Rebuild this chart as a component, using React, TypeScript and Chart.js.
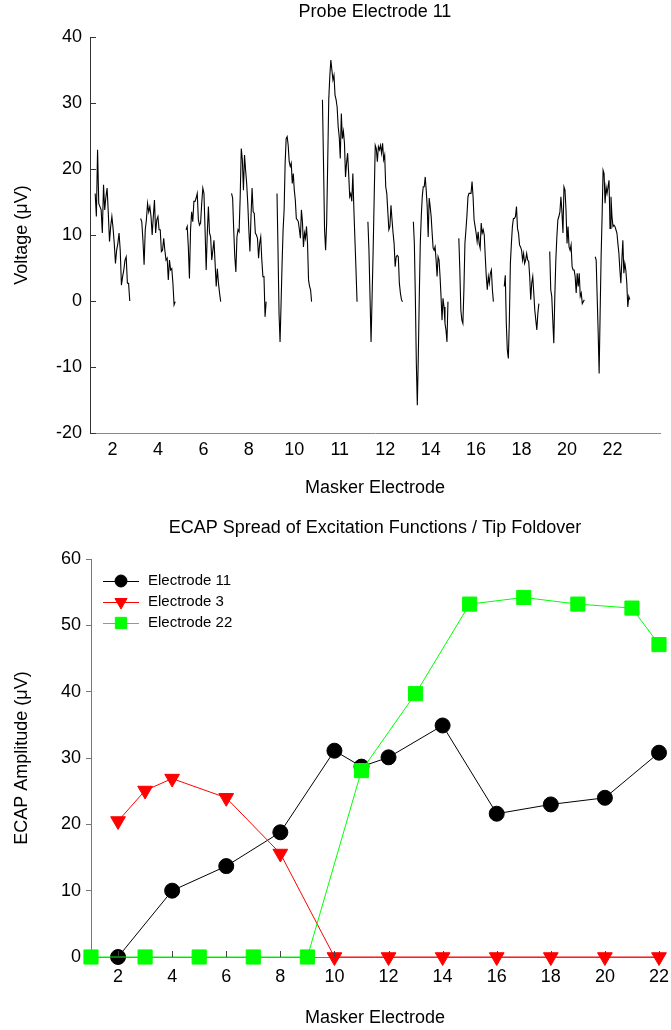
import React, { useEffect, useRef } from 'react';
import { Chart, registerables } from 'chart.js';

Chart.register(...registerables);

const FONT = "'Liberation Sans', Arial, sans-serif";

// ---------- Top chart: probe electrode 11 traces ----------
const maskerLabels = ['2', '4', '6', '8', '10', '11', '12', '14', '16', '18', '20', '22'];

const trace2 = [16.3, 12.8, 22.9, 14.8, 14.3, 13.8, 10.3, 17.6, 13.8, 15.8, 17.1, 13.3, 9.0, 11.3, 12.8, 11.0, 8.7, 5.7, 7.7, 8.7, 10.3, 7.7, 2.4, 3.7, 4.7, 6.2, 6.7, 2.7, 2.7, 0];
const trace4 = [12.5, 12.0, 9.2, 5.5, 10.8, 12.3, 14.8, 13.5, 14.3, 12.8, 10.0, 12.8, 15.3, 10.3, 12.3, 12.8, 10.8, 10.8, 7.5, 7.7, 9.5, 7.7, 6.2, 6.5, 3.2, 6.2, 4.7, 4.9, 2.7, -0.6, -0.1];
const trace6 = [10.8, 11.3, 8.2, 3.4, 10.8, 13.5, 12.0, 15.1, 15.1, 15.6, 16.3, 12.3, 11.5, 11.8, 14.8, 17.1, 16.3, 10.8, 4.7, 10.3, 14.3, 10.3, 9.7, 6.2, 7.7, 9.2, 5.7, 2.2, 4.9, 2.7, 1.2, -0.1];
const trace8 = [16.3, 15.6, 10.8, 6.7, 4.4, 9.7, 10.8, 10.5, 15.8, 23.1, 21.4, 16.8, 22.1, 19.8, 17.8, 14.8, 10.8, 7.5, 12.8, 17.1, 13.5, 13.3, 10.3, 10.0, 9.5, 6.5, 8.7, 9.7, 6.2, 3.7, 3.7, -2.4, -0.1];
const trace10 = [16.3, 7.7, -1.9, -6.2, -0.4, 5.7, 10.8, 13.8, 20.9, 24.6, 24.9, 23.6, 21.1, 20.4, 20.9, 17.8, 19.3, 16.8, 15.3, 12.5, 12.3, 12.0, 10.8, 9.5, 13.8, 12.0, 8.2, 10.3, 9.5, 11.3, 8.7, 3.2, 2.2, 1.7, -0.1];
const trace11 = [30.5, 20.9, 10.8, 7.7, 11.8, 20.9, 30.5, 34.0, 36.5, 35.0, 33.5, 34.2, 31.2, 30.5, 29.4, 26.4, 24.9, 21.6, 28.4, 24.6, 25.7, 23.9, 18.8, 20.9, 22.4, 19.3, 15.8, 16.3, 15.1, 19.3, 13.8, 9.2, 4.7, -0.1];
const trace12 = [12.0, 7.7, 0.7, -6.2, 0.7, 7.7, 15.8, 23.6, 23.1, 21.1, 23.4, 22.9, 23.6, 22.4, 23.9, 21.4, 22.1, 17.3, 16.3, 13.5, 10.8, 11.3, 14.5, 12.3, 10.3, 8.7, 5.2, 6.7, 6.9, 6.7, 2.7, 1.2, 0.2, -0.1];
const trace14 = [12.0, 8.7, 0.7, -9.4, -15.8, -8.4, 0.7, 8.7, 12.8, 15.8, 17.3, 17.3, 18.8, 16.8, 14.3, 9.7, 15.6, 14.3, 12.8, 10.3, 8.0, 7.7, 8.2, 6.2, 3.7, 6.7, 6.2, 3.7, 0.7, -2.9, 0.4, -0.9, -3.4, -4.4, -6.2, -0.1];
const trace16 = [9.5, 4.7, -1.4, -2.9, -3.4, 1.7, 8.7, 10.8, 13.0, 15.8, 16.3, 16.3, 16.3, 18.1, 15.8, 12.3, 11.3, 10.3, 9.0, 10.5, 8.7, 8.0, 11.8, 10.3, 10.8, 10.0, 6.7, 3.7, 1.7, 3.7, 2.7, 4.2, 4.7, 1.7, -0.1];
const trace18 = [2.2, 3.9, -3.4, -7.4, -8.7, -2.9, 5.7, 8.7, 11.3, 12.5, 12.5, 12.8, 14.3, 11.0, 10.3, 8.5, 8.2, 7.7, 6.2, 7.2, 5.7, 6.2, 7.2, 6.2, 6.0, 3.7, 0.2, 2.7, 3.7, 1.2, -1.4, -2.9, -4.4, -1.9, -0.4];
const trace20 = [7.5, 1.7, 0.7, -2.9, -6.4, 0.7, 6.2, 9.7, 12.3, 12.8, 13.5, 15.8, 13.5, 10.3, 17.3, 16.8, 13.8, 8.7, 11.3, 8.2, 7.7, 8.5, 5.2, 4.7, 4.7, 3.7, 1.2, 4.2, 2.2, 4.2, 0.7, 1.2, -0.4, -0.1, 0.2];
const trace22 = [6.7, 6.2, 0.7, -4.6, -11.0, -1.9, 6.7, 12.8, 19.8, 19.3, 14.8, 17.3, 16.3, 17.3, 18.3, 11.0, 15.8, 12.8, 11.3, 11.5, 11.3, 10.8, 10.3, 8.7, 7.2, 4.7, 2.7, 6.2, 9.2, 4.2, 5.7, 4.7, 2.7, -0.9, 0.7, 0.2];

const traces = [trace2, trace4, trace6, trace8, trace10, trace11, trace12, trace14, trace16, trace18, trace20, trace22];

// ---------- Bottom chart: ECAP spread of excitation ----------
const e11X = [2, 4, 6, 8, 10, 11, 12, 14, 16, 18, 20, 22];
const e11Y = [0, 10, 13.7, 18.8, 31.1, 28.7, 30.1, 34.9, 21.6, 23.0, 24.0, 30.8];
const e3X = [2, 3, 4, 6, 8, 10, 12, 14, 16, 18, 20, 22];
const e3Y = [20.5, 25.1, 26.9, 24.0, 15.6, 0, 0, 0, 0, 0, 0, 0];
const e22X = [1, 3, 5, 7, 9, 11, 13, 15, 17, 19, 21, 22];
const e22Y = [0, 0, 0, 0, 0, 28.1, 39.7, 53.2, 54.2, 53.2, 52.6, 47.1];
const ecapXTicks = [2, 4, 6, 8, 10, 12, 14, 16, 18, 20, 22];

// layout of trace segments on the top x axis (in segment units)
const SEG_OFFSET = 0.114;
const SEG_SPAN = 0.761;
const TOP_X_MAX = 12.54;

function drawMarker(ctx: CanvasRenderingContext2D, style: string, x: number, y: number, r: number, color: string) {
  ctx.beginPath();
  if (style === 'circle') {
    ctx.arc(x, y, r, 0, Math.PI * 2);
  } else if (style === 'triangle') {
    ctx.moveTo(x - r * 0.866, y - r * 0.5);
    ctx.lineTo(x + r * 0.866, y - r * 0.5);
    ctx.lineTo(x, y + r);
    ctx.closePath();
  } else {
    const s = r * Math.SQRT1_2;
    ctx.rect(x - s, y - s, 2 * s, 2 * s);
  }
  ctx.fillStyle = color;
  ctx.fill();
  ctx.strokeStyle = color;
  ctx.lineWidth = 1;
  ctx.stroke();
}

const decorPlugin = {
  id: 'decor',
  afterDraw(chart: any, _args: any, opts: any) {
    const { ctx, chartArea, scales } = chart;
    ctx.save();
    // title
    ctx.font = `18px ${FONT}`;
    ctx.fillStyle = '#000';
    ctx.textAlign = 'center';
    ctx.textBaseline = 'middle';
    ctx.fillText(opts.title, (chartArea.left + chartArea.right) / 2, opts.titleY);
    // inner ticks
    if (opts.innerY) {
      ctx.strokeStyle = opts.innerYColor;
      ctx.lineWidth = 1;
      scales.y.ticks.forEach((t: any) => {
        const py = Math.round(scales.y.getPixelForValue(t.value)) + 0.5;
        ctx.beginPath();
        ctx.moveTo(chartArea.left, py);
        ctx.lineTo(chartArea.left + opts.innerY, py);
        ctx.stroke();
      });
    }
    if (opts.innerX) {
      ctx.strokeStyle = opts.innerXColor;
      ctx.lineWidth = 1;
      scales.x.ticks.forEach((t: any) => {
        const px = Math.round(scales.x.getPixelForValue(t.value)) + 0.5;
        ctx.beginPath();
        ctx.moveTo(px, chartArea.bottom);
        ctx.lineTo(px, chartArea.bottom - opts.innerX);
        ctx.stroke();
      });
    }
    ctx.restore();
  },
  afterDatasetsDraw(chart: any, _args: any, opts: any) {
    if (!opts.legend) return;
    const { ctx, chartArea } = chart;
    ctx.save();
    const x0 = chartArea.left + 12;
    chart.data.datasets.forEach((ds: any, i: number) => {
      const y = chartArea.top + 22 + i * 21;
      ctx.strokeStyle = ds.borderColor;
      ctx.lineWidth = 1;
      ctx.beginPath();
      ctx.moveTo(x0, y + 0.5);
      ctx.lineTo(x0 + 36, y + 0.5);
      ctx.stroke();
      drawMarker(ctx, ds.pointStyle, x0 + 18, y, ds.legendRadius, ds.pointBackgroundColor);
      ctx.font = `15px ${FONT}`;
      ctx.fillStyle = '#000';
      ctx.textAlign = 'left';
      ctx.textBaseline = 'middle';
      ctx.fillText(ds.label, x0 + 45, y);
    });
    ctx.restore();
  },
};

export default function App() {
  const topRef = useRef<HTMLCanvasElement>(null);
  const botRef = useRef<HTMLCanvasElement>(null);

  useEffect(() => {
    Chart.defaults.font.family = FONT;
    Chart.defaults.color = '#000';

    const topDatasets = traces.map((vals, i) => ({
      label: 'Masker ' + maskerLabels[i],
      data: vals.map((v, k) => ({ x: i + SEG_OFFSET + (k / (vals.length - 1)) * SEG_SPAN, y: v })),
      borderColor: '#000',
      borderWidth: 1.1,
      pointRadius: 0,
      tension: 0,
      fill: false,
    }));

    const topChart = new Chart(topRef.current as HTMLCanvasElement, {
      type: 'line',
      data: { datasets: topDatasets as any },
      plugins: [decorPlugin as any],
      options: {
        responsive: false,
        animation: false,
        events: [],
        layout: { padding: { top: 37, right: 11, left: 0, bottom: 0 } },
        plugins: {
          legend: { display: false },
          tooltip: { enabled: false },
          decor: { title: 'Probe Electrode 11', titleY: 12.5, innerY: 6, innerYColor: '#333' },
        } as any,
        scales: {
          x: {
            type: 'linear',
            min: 0,
            max: TOP_X_MAX,
            afterFit: (s: any) => { s.height = 67; s.paddingLeft = 0; s.paddingRight = 0; },
            afterBuildTicks: (s: any) => {
              s.ticks = maskerLabels.map((_, i) => ({ value: i + SEG_OFFSET + SEG_SPAN / 2 }));
            },
            ticks: {
              autoSkip: false,
              maxRotation: 0,
              padding: 6,
              font: { size: 18 },
              callback: (_v: any, idx: number) => maskerLabels[idx],
            },
            grid: { drawOnChartArea: false, drawTicks: false },
            border: { color: '#888', width: 1 },
            title: { display: true, text: 'Masker Electrode', font: { size: 18 }, padding: { top: 0, bottom: 1 } },
          },
          y: {
            type: 'linear',
            min: -20,
            max: 40,
            afterFit: (s: any) => { s.width = 90; },
            ticks: { stepSize: 10, padding: 8, font: { size: 18 } },
            grid: { drawOnChartArea: false, drawTicks: false },
            border: { color: '#333', width: 1 },
            title: { display: true, text: 'Voltage (\u03BCV)', font: { size: 18 }, padding: { top: 11, bottom: 0 } },
          },
        },
      } as any,
    });

    const mk = (xs: number[], ys: number[]) => xs.map((x, i) => ({ x, y: ys[i] }));

    const botChart = new Chart(botRef.current as HTMLCanvasElement, {
      type: 'line',
      data: {
        datasets: [
          {
            label: 'Electrode 11',
            data: mk(e11X, e11Y),
            borderColor: '#000000',
            borderWidth: 1,
            pointStyle: 'circle',
            pointRadius: 7.5,
            pointBackgroundColor: '#000000',
            pointBorderColor: '#000000',
            legendRadius: 6,
            order: 2,
            clip: false,
          },
          {
            label: 'Electrode 3',
            data: mk(e3X, e3Y),
            borderColor: '#ff0000',
            borderWidth: 1,
            pointStyle: 'triangle',
            pointRotation: 180,
            pointRadius: 8.5,
            pointBackgroundColor: '#ff0000',
            pointBorderColor: '#ff0000',
            legendRadius: 7,
            order: 1,
            clip: false,
          },
          {
            label: 'Electrode 22',
            data: mk(e22X, e22Y),
            borderColor: '#00ff00',
            borderWidth: 1,
            pointStyle: 'rect',
            pointRadius: 10,
            pointBackgroundColor: '#00ff00',
            pointBorderColor: '#00ff00',
            legendRadius: 8,
            order: 0,
            clip: false,
          },
        ] as any,
      },
      plugins: [decorPlugin as any],
      options: {
        responsive: false,
        animation: false,
        events: [],
        layout: { padding: { top: 59, right: 12, left: 0, bottom: 0 } },
        plugins: {
          legend: { display: false },
          tooltip: { enabled: false },
          decor: {
            title: 'ECAP Spread of Excitation Functions / Tip Foldover',
            titleY: 28,
            innerX: 6,
            innerXColor: '#444',
            legend: true,
          },
        } as any,
        scales: {
          x: {
            type: 'linear',
            min: 1,
            max: 22,
            afterFit: (s: any) => { s.height = 73; s.paddingLeft = 0; s.paddingRight = 0; },
            afterBuildTicks: (s: any) => {
              s.ticks = ecapXTicks.map((v) => ({ value: v }));
            },
            ticks: { autoSkip: false, maxRotation: 0, padding: 9, font: { size: 18 } },
            grid: { drawOnChartArea: false, drawTicks: false },
            border: { color: '#777', width: 1 },
            title: { display: true, text: 'Masker Electrode', font: { size: 18 }, padding: { top: 0, bottom: 1 } },
          },
          y: {
            type: 'linear',
            min: 0,
            max: 60,
            afterFit: (s: any) => { s.width = 91; },
            ticks: { stepSize: 10, padding: 5, font: { size: 18 } },
            grid: { drawOnChartArea: false, drawTicks: true, tickLength: 5, color: '#777' },
            border: { color: '#777', width: 1 },
            title: { display: true, text: 'ECAP Amplitude (\u03BCV)', font: { size: 18 }, padding: { top: 11, bottom: 0 } },
          },
        },
      } as any,
    });

    return () => {
      topChart.destroy();
      botChart.destroy();
    };
  }, []);

  return (
    <div style={{ position: 'absolute', left: 0, top: 0, width: 671, height: 1030, background: '#fff' }}>
      <canvas ref={topRef} width={671} height={500} style={{ display: 'block', width: 671, height: 500 }} />
      <canvas ref={botRef} width={671} height={530} style={{ display: 'block', width: 671, height: 530 }} />
    </div>
  );
}
